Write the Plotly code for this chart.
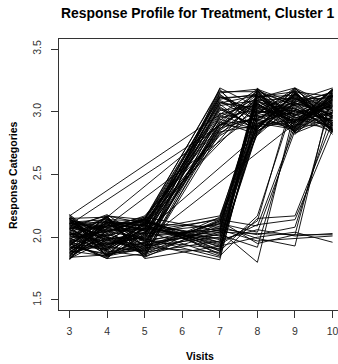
import plotly.graph_objects as go

visits = [3, 4, 5, 7, 8, 9, 10]
x_ticks = [3, 4, 5, 6, 7, 8, 9, 10]
y_ticks = [1.5, 2.0, 2.5, 3.0, 3.5]
y_tick_labels = ["1.5", "2.0", "2.5", "3.0", "3.5"]

# responses (jittered categories) per subject, grouped by when the response rose
rise_after_5 = [
    [2.05, 1.93, 2.11, 3.02, 2.88, 3.14, 2.95],
    [1.87, 2.12, 1.96, 2.91, 3.17, 2.84, 3.08],
    [2.16, 2.01, 1.88, 3.12, 2.97, 3.03, 2.86],
    [1.95, 1.84, 2.03, 2.85, 3.06, 2.92, 3.18],
    [2.09, 2.17, 2.14, 3.18, 2.83, 3.10, 3.01],
    [1.83, 1.98, 1.91, 2.96, 3.11, 3.19, 2.89],
    [2.12, 2.06, 2.07, 3.08, 2.93, 2.87, 3.13],
    [1.99, 1.89, 1.85, 2.83, 3.01, 3.07, 2.97],
    [2.18, 1.95, 2.00, 3.15, 3.18, 2.95, 3.05],
    [1.90, 2.09, 2.16, 2.94, 2.86, 3.16, 2.84],
    [2.03, 1.86, 1.94, 3.05, 3.09, 2.89, 3.16],
    [1.85, 2.14, 2.05, 2.87, 2.95, 3.04, 2.92],
    [2.14, 2.03, 1.90, 3.19, 3.04, 2.82, 3.10],
    [1.92, 1.91, 2.12, 2.92, 2.82, 3.13, 3.03],
    [2.07, 2.18, 1.98, 3.10, 3.14, 2.98, 2.87],
    [1.97, 1.83, 2.09, 2.99, 2.90, 3.09, 3.19],
    [2.11, 2.00, 1.87, 2.86, 3.12, 2.93, 2.99],
    [1.88, 2.10, 2.02, 3.13, 2.99, 3.17, 2.83],
    [2.01, 1.97, 2.15, 2.89, 3.07, 2.86, 3.14],
    [2.17, 1.88, 1.93, 3.04, 2.85, 3.01, 2.94],
    [1.84, 2.05, 2.06, 3.16, 3.16, 2.91, 3.06],
    [2.06, 2.15, 1.84, 2.90, 2.94, 3.12, 2.90],
    [1.94, 1.92, 2.10, 3.07, 3.03, 2.85, 3.12],
    [2.13, 2.08, 1.97, 2.84, 2.89, 3.06, 2.98],
    [1.89, 1.85, 2.13, 3.11, 3.13, 2.97, 3.17],
    [2.00, 2.13, 1.89, 2.97, 2.87, 3.15, 2.85],
    [2.15, 1.94, 2.04, 3.01, 3.05, 2.88, 3.09],
    [1.86, 2.02, 1.95, 2.88, 3.10, 3.02, 2.96],
    [2.08, 1.87, 2.08, 3.14, 2.92, 3.18, 3.02],
    [1.93, 2.16, 1.86, 2.93, 3.15, 2.90, 2.88],
    [2.10, 1.99, 2.01, 3.06, 2.84, 3.08, 3.15],
    [1.91, 2.07, 2.17, 2.82, 3.08, 2.94, 2.93],
    [2.02, 2.11, 2.12, 3.09, 2.96, 2.99, 3.07],
    [1.96, 1.90, 2.07, 2.95, 3.02, 3.11, 2.91],
    [2.14, 2.04, 2.15, 3.17, 2.91, 2.86, 3.00],
    [1.88, 1.96, 2.03, 2.86, 3.17, 3.05, 3.13],
    [2.07, 2.13, 2.10, 3.03, 2.88, 3.14, 2.84],
    [1.93, 1.86, 1.99, 2.98, 3.06, 2.92, 3.18],
    [2.11, 2.08, 2.14, 3.12, 3.00, 3.01, 2.89],
    [1.85, 2.00, 1.92, 2.90, 2.86, 3.19, 3.04],
    [2.04, 1.92, 2.06, 3.07, 3.13, 2.83, 2.95],
    [1.98, 2.17, 2.11, 2.81, 2.98, 3.10, 3.11],
]

rise_after_7 = [
    [2.04, 1.90, 2.08, 1.95, 3.05, 2.91, 3.10],
    [1.86, 2.11, 1.93, 2.12, 2.87, 3.15, 2.88],
    [2.13, 1.97, 2.14, 1.86, 3.17, 2.83, 3.04],
    [1.96, 2.06, 1.85, 2.03, 2.93, 3.06, 3.16],
    [2.18, 1.84, 2.02, 2.15, 3.09, 2.96, 2.84],
    [1.82, 2.15, 1.97, 1.91, 2.84, 3.11, 2.97],
    [2.09, 2.01, 2.11, 2.08, 3.13, 2.87, 3.13],
    [1.98, 1.93, 1.88, 1.97, 2.98, 3.19, 2.91],
    [2.11, 2.12, 2.06, 2.17, 3.01, 2.93, 3.07],
    [1.84, 1.86, 1.92, 1.88, 2.90, 3.03, 2.86],
    [2.02, 2.04, 2.16, 2.05, 3.15, 2.89, 3.18],
    [1.93, 2.17, 1.83, 1.93, 2.86, 3.14, 2.95],
    [2.16, 1.89, 2.04, 2.10, 3.07, 2.84, 3.11],
    [1.89, 1.99, 1.99, 1.84, 2.95, 3.08, 2.82],
    [2.07, 2.08, 2.10, 2.01, 3.11, 2.95, 3.05],
    [1.95, 1.83, 1.87, 2.13, 2.82, 3.17, 2.99],
    [2.12, 2.14, 2.13, 1.90, 3.19, 2.86, 3.14],
    [1.87, 1.95, 1.94, 2.06, 2.91, 3.01, 2.87],
    [2.05, 2.10, 2.07, 1.99, 3.03, 3.12, 3.02],
    [1.92, 1.87, 1.90, 2.16, 2.88, 2.92, 3.17],
    [2.00, 2.02, 2.12, 1.87, 3.16, 3.05, 2.90],
    [2.03, 1.96, 1.95, 1.82, 3.00, 2.98, 3.08],
    [2.06, 1.94, 2.01, 2.07, 3.08, 3.00, 2.93],
    [1.90, 2.12, 2.09, 1.96, 2.94, 2.88, 3.15],
    [2.15, 1.85, 1.96, 2.11, 3.12, 3.13, 2.86],
    [1.83, 2.05, 2.14, 1.92, 2.85, 2.97, 3.09],
    [2.09, 1.98, 1.89, 2.04, 3.18, 3.07, 3.01],
    [1.97, 2.09, 2.05, 2.14, 2.97, 2.85, 2.96],
    [2.13, 1.91, 2.10, 1.89, 3.04, 3.16, 3.12],
    [1.94, 2.16, 1.93, 2.00, 2.89, 2.94, 2.89],
]

rise_after_8 = [
    [1.97, 2.07, 2.03, 2.05, 1.80, 3.02, 2.93],
    [2.14, 1.92, 1.89, 2.14, 2.09, 2.88, 3.12],
    [1.85, 2.13, 2.09, 1.94, 2.13, 3.16, 2.85],
    [2.08, 1.88, 1.96, 2.02, 1.92, 2.94, 3.06],
    [1.90, 2.03, 2.15, 1.89, 2.17, 3.09, 2.97],
    [2.01, 2.16, 1.84, 2.11, 2.04, 2.85, 3.15],
]

rise_after_9 = [
    [2.06, 1.94, 2.00, 2.07, 2.02, 2.08, 3.01],
    [1.88, 2.09, 2.13, 1.96, 2.10, 2.14, 2.86],
    [2.15, 1.85, 1.91, 2.13, 1.95, 2.02, 3.13],
    [1.94, 2.12, 2.05, 1.85, 2.15, 2.17, 2.92],
    [2.10, 2.00, 1.86, 2.09, 1.99, 1.93, 3.18],
]

no_rise = [
    [1.99, 2.05, 1.98, 2.04, 2.03, 2.02, 2.02],
    [2.12, 1.90, 2.07, 1.93, 2.00, 2.04, 1.96],
    [1.83, 2.11, 1.93, 2.06, 1.97, 1.99, 2.01],
    [2.04, 1.86, 2.12, 1.98, 2.06, 2.01, 2.03],
]

missed_visits = [
    [2.17, None, None, None, 3.18, 2.97, 3.04],
    [2.10, None, None, None, 3.09, 3.11, 2.90],
    [2.15, 2.16, None, None, 3.14, 2.89, 3.12],
    [2.02, 2.09, None, None, 2.99, 3.05, 2.96],
    [2.11, 2.05, 2.13, None, 3.06, 2.92, 3.10],
    [1.96, 2.01, 2.09, None, 3.12, 3.16, 2.87],
    [2.08, 1.98, 2.04, None, None, 3.07, 2.99],
    [1.91, 2.14, 1.97, None, None, 2.90, 3.14],
]

subjects = rise_after_5 + rise_after_7 + rise_after_8 + rise_after_9 + no_rise + missed_visits

FONT = "Liberation Sans, Arial, sans-serif"

fig = go.Figure()
for row in subjects:
    fig.add_trace(go.Scatter(
        x=visits, y=row, mode="lines", connectgaps=True,
        line=dict(color="black", width=0.9),
        showlegend=False, hoverinfo="skip",
    ))

W, H = 338, 364
L, R, T, B = 59, 0, 39, 54
pw, ph = W - L - R, H - T - B


def px_x(px):
    return (px - L) / pw


def px_y(py):
    return (H - B - py) / ph


fig.update_layout(
    width=W, height=H,
    margin=dict(l=L, r=R, t=T, b=B, pad=0),
    plot_bgcolor="white", paper_bgcolor="white",
    font=dict(family=FONT, color="#222", size=10.5),
    xaxis=dict(
        range=[2.72, 10.145], tickvals=x_ticks, ticktext=[str(v) for v in x_ticks],
        showgrid=False, zeroline=False, showline=True, mirror=True,
        linecolor="#333", linewidth=1, ticks="outside", ticklen=7,
        tickcolor="#333", tickwidth=1, ticklabelstandoff=4,
        ticklabeloverflow="allow",
        tickfont=dict(size=10.5, color="#333"), automargin=False,
    ),
    yaxis=dict(
        range=[1.42, 3.58], tickvals=y_ticks, ticktext=y_tick_labels,
        showgrid=False, zeroline=False, showline=True, mirror=False,
        linecolor="#333", linewidth=1, ticks="outside", ticklen=7,
        tickcolor="#333", tickwidth=1, tickangle=-90, ticklabelstandoff=6,
        tickfont=dict(size=10.5, color="#333"), automargin=False,
    ),
    annotations=[
        dict(text="<b>Response Profile for Treatment, Cluster 1</b>",
             x=px_x(198), y=px_y(13), xref="paper", yref="paper",
             xanchor="center", yanchor="middle", showarrow=False,
             font=dict(size=13.9, color="black", family=FONT)),
        dict(text="<b>Visits</b>",
             x=px_x(200), y=px_y(356), xref="paper", yref="paper",
             xanchor="center", yanchor="middle", showarrow=False,
             font=dict(size=10.5, color="black", family=FONT)),
        dict(text="<b>Response Categories</b>",
             x=px_x(13), y=px_y(175), xref="paper", yref="paper",
             xanchor="center", yanchor="middle", showarrow=False, textangle=-90,
             font=dict(size=10.5, color="black", family=FONT)),
    ],
)

fig.write_html(
    "out.html",
    config={"displayModeBar": False},
    post_script="document.body.style.margin='0px';document.body.style.overflow='hidden';",
)
